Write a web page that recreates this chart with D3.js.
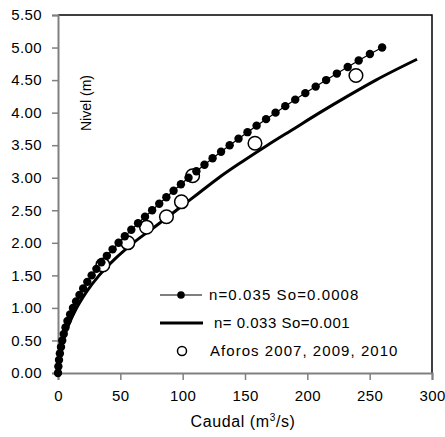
<!DOCTYPE html>
<html>
<head>
<meta charset="utf-8">
<script src="https://cdn.jsdelivr.net/npm/d3@7"></script>
<style>
  body { margin: 0; background: #fff; }
  text { font-family: "Liberation Sans", Arial, sans-serif; fill: #000; }
</style>
</head>
<body>
<div id="chart"></div>
<script>
const width = 445;
const height = 437;
const margins = ({ top: 15, right: 13, bottom: 64, left: 58 });

// n=0.035 So=0.0008 : nivel cada 0.1 m
const nivel1 = [0, 0.1, 0.2, 0.3, 0.4, 0.5, 0.6, 0.7, 0.8, 0.9, 1.0, 1.1, 1.2, 1.3, 1.4, 1.5, 1.6, 1.7, 1.8, 1.9,
    2.0, 2.1, 2.2, 2.3, 2.4, 2.5, 2.6, 2.7, 2.8, 2.9, 3.0, 3.1, 3.2, 3.3, 3.4, 3.5, 3.6, 3.7, 3.8, 3.9,
    4.0, 4.1, 4.2, 4.3, 4.4, 4.5, 4.6, 4.7, 4.8, 4.9, 5.0];
const caudal1 = [0, 0.3, 0.8, 1.5, 2.4, 3.4, 4.6, 6.0, 7.6, 9.7, 12.0, 14.5, 17.2, 20.2, 23.5, 27.0, 30.8, 34.8, 39.2, 43.8,
    48.6, 53.6, 58.8, 64.2, 69.8, 75.5, 81.2, 86.9, 92.7, 98.6, 104.7, 111, 117.5, 124, 130.8, 137.7, 144.8, 152, 159.3, 166.9,
    174.5, 182.3, 190.3, 198.4, 206.7, 215.1, 223.7, 232.4, 241.2, 250.2, 260];

// n=0.033 So=0.001
const nivel2 = [0, 0.25, 0.5, 0.75, 1.0, 1.25, 1.5, 1.75, 2.0, 2.25, 2.5, 2.75, 3.0, 3.25, 3.5, 3.75, 4.0, 4.25, 4.5, 4.82];
const caudal2 = [0, 1.1, 4.0, 8.8, 15, 23, 33, 45.5, 60.5, 78, 95, 112, 129, 148, 168, 189, 210, 232, 255, 288];

// Aforos 2007, 2009, 2010
const aforoCaudal = [36, 56, 71, 87, 99, 108, 158, 239];
const aforoNivel = [1.66, 2.0, 2.24, 2.40, 2.63, 3.03, 3.53, 4.57];

const xTicks = [0, 50, 100, 150, 200, 250, 300];
const yTicks = [0, 0.5, 1, 1.5, 2, 2.5, 3, 3.5, 4, 4.5, 5, 5.5];
const legendLabels = ["n=0.035 So=0.0008", "n= 0.033 So=0.001", "Aforos 2007, 2009, 2010"];

const svg = d3.select("#chart")
    .append("svg")
    .attr("width", width)
    .attr("height", height)

const x = d3.scaleLinear().domain([0, 300]).range([margins.left, width - margins.right])
const y = d3.scaleLinear().domain([0, 5.5]).range([height - margins.bottom, margins.top])

// marco superior y derecho
svg.append("path")
    .attr("d", `M${x(0)},${y(5.5)}H${x(300)}V${y(0)}`)
    .attr("fill", "none")
    .attr("stroke", "#000")
    .attr("stroke-width", 1.5)

const xAxis = svg.append("g")
    .attr("transform", `translate(0,${y(0)})`)
    .call(d3.axisBottom(x).tickValues(xTicks).tickSize(7).tickPadding(10).tickFormat(d3.format("d")))
const yAxis = svg.append("g")
    .attr("transform", `translate(${x(0)},0)`)
    .call(d3.axisLeft(y).tickValues(yTicks).tickSize(6).tickPadding(10).tickFormat(d3.format(".2f")))

for (const ax of [xAxis, yAxis]) {
    ax.select(".domain").attr("stroke", "#808080").attr("stroke-width", 2)
    ax.selectAll(".tick line").attr("stroke", "#808080").attr("stroke-width", 1.5)
    ax.selectAll(".tick text").style("font-size", "15px").style("letter-spacing", "0.4px")
        .attr("font-family", null)
}

svg.append("text")
    .text("Nivel (m)")
    .attr("transform", `translate(91,103) rotate(-90)`)
    .attr("text-anchor", "middle")
    .style("font-size", "14px")

const xTitle = svg.append("text")
    .attr("x", 243)
    .attr("y", 427)
    .attr("text-anchor", "middle")
    .style("font-size", "16px")
    .style("letter-spacing", "0.6px")
xTitle.append("tspan").text("Caudal (m")
xTitle.append("tspan").text("3").attr("dy", -6).style("font-size", "10px")
xTitle.append("tspan").text("/s)").attr("dy", 6)

const serie1 = nivel1.map((h, i) => ({ q: caudal1[i], h: h }))
const serie2 = nivel2.map((h, i) => ({ q: caudal2[i], h: h }))
const aforos = aforoNivel.map((h, i) => ({ q: aforoCaudal[i], h: h }))

const line = d3.line().x(d => x(d.q)).y(d => y(d.h))

svg.append("path")
    .datum(serie1)
    .attr("d", line)
    .attr("fill", "none")
    .attr("stroke", "#000")
    .attr("stroke-width", 1.2)

svg.append("path")
    .datum(serie2)
    .attr("d", line.curve(d3.curveMonotoneX))
    .attr("fill", "none")
    .attr("stroke", "#000")
    .attr("stroke-width", 3)

svg.selectAll(".aforo")
    .data(aforos)
    .enter()
    .append("circle")
    .attr("class", "aforo")
    .attr("cx", d => x(d.q))
    .attr("cy", d => y(d.h))
    .attr("r", 6.8)
    .attr("fill", "#fff")
    .attr("stroke", "#000")
    .attr("stroke-width", 1.5)

svg.selectAll(".punto")
    .data(serie1)
    .enter()
    .append("circle")
    .attr("class", "punto")
    .attr("cx", d => x(d.q))
    .attr("cy", d => y(d.h))
    .attr("r", 4.2)
    .attr("fill", "#000")

// leyenda
const legendY = [295, 323, 351];
const legendTextX = [209, 214, 210];
const legendSpacing = [1.1, 0.5, 1.05];
const legend = svg.append("g")
legend.append("line").attr("x1", 160).attr("x2", 202).attr("y1", legendY[0]).attr("y2", legendY[0])
    .attr("stroke", "#000").attr("stroke-width", 1.2)
legend.append("circle").attr("cx", 181).attr("cy", legendY[0]).attr("r", 3.8).attr("fill", "#000")
legend.append("line").attr("x1", 160).attr("x2", 203).attr("y1", legendY[1]).attr("y2", legendY[1])
    .attr("stroke", "#000").attr("stroke-width", 3)
legend.append("circle").attr("cx", 182).attr("cy", legendY[2]).attr("r", 4.5)
    .attr("fill", "#fff").attr("stroke", "#000").attr("stroke-width", 1.5)
legend.selectAll("text")
    .data(legendLabels)
    .enter()
    .append("text")
    .text(d => d)
    .attr("x", (d, i) => legendTextX[i])
    .attr("y", (d, i) => legendY[i] + 5)
    .style("font-size", "15px")
    .style("letter-spacing", (d, i) => `${legendSpacing[i]}px`)
</script>
</body>
</html>
